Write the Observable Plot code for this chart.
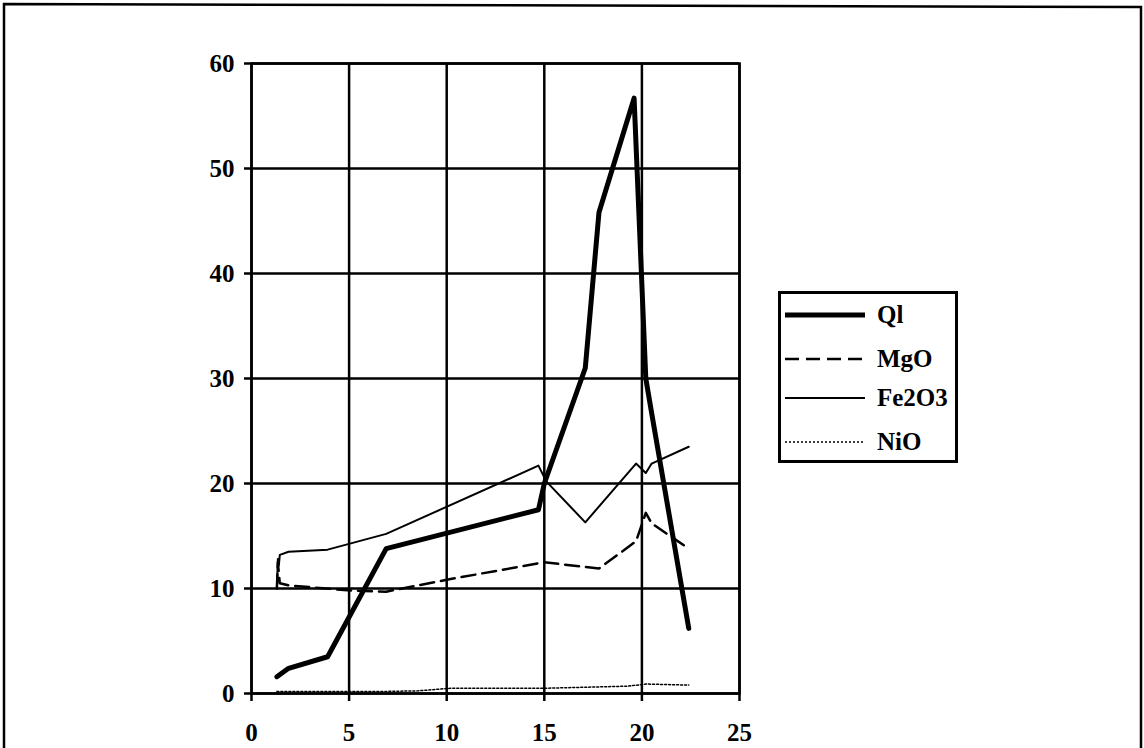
<!DOCTYPE html>
<html>
<head>
<meta charset="utf-8">
<script src="https://cdn.jsdelivr.net/npm/d3@7"></script>
<script src="https://cdn.jsdelivr.net/npm/@observablehq/plot@0.6"></script>
<style>
  html, body { margin: 0; padding: 0; background: #fff; }
  #wrap { position: relative; width: 1144px; height: 748px; overflow: hidden; background: #fff; }
  #frame { position: absolute; left: 0; top: 0; }
  #chart { position: absolute; left: 0; top: 0; }
  #legend { position: absolute; left: 778px; top: 291px; }
</style>
</head>
<body>
<div id="wrap">
  <svg id="frame" width="1144" height="748">
    <polyline points="4,748 4,4 1141,7 1141,748" fill="none" stroke="#000" stroke-width="2.5"/>
  </svg>
  <div id="chart"></div>
  <div id="legend"></div>
</div>
<script>
// ---- data ----
const qlX    = [1.3, 1.9, 3.9, 6.9, 14.7, 15.0, 17.1, 17.8, 19.6, 20.2, 20.5, 22.4];
const qlY    = [1.6, 2.4, 3.5, 13.8, 17.5, 20.0, 31.0, 45.8, 56.7, 30.0, 26.7, 6.2];

const mgoX   = [1.3, 1.35, 1.45, 1.9, 5.1, 6.9, 10.2, 15.0, 17.8, 19.7, 20.2, 20.5, 22.4];
const mgoY   = [10.0, 12.5, 10.5, 10.3, 9.8, 9.7, 10.9, 12.5, 11.9, 14.5, 17.2, 16.2, 13.8];

const fe2o3X = [1.3, 1.35, 1.4, 1.45, 1.9, 3.9, 6.9, 14.7, 15.1, 17.1, 19.7, 20.2, 20.5, 22.4];
const fe2o3Y = [10.0, 12.8, 12.2, 13.2, 13.5, 13.7, 15.2, 21.7, 20.2, 16.3, 21.9, 21.0, 21.9, 23.5];

const nioX   = [1.3, 6.9, 8.5, 10.2, 15.0, 19.3, 20.2, 22.4];
const nioY   = [0.2, 0.2, 0.25, 0.5, 0.5, 0.7, 0.9, 0.8];

const xTicks = [0, 5, 10, 15, 20, 25];
const yTicks = [0, 10, 20, 30, 40, 50, 60];

const seriesNames = ["Ql", "MgO", "Fe2O3", "NiO"];

// ---- build tables ----
const toRows = (xs, ys) => xs.map((x, i) => ({x, y: ys[i]}));
const ql = toRows(qlX, qlY);
const mgo = toRows(mgoX, mgoY);
const fe = toRows(fe2o3X, fe2o3Y);
const nio = toRows(nioX, nioY);

const FONT = "'Liberation Serif', 'Times New Roman', serif";

const chart = Plot.plot({
  width: 1144,
  height: 748,
  marginLeft: 251,
  marginRight: 405,
  marginTop: 63,
  marginBottom: 55,
  style: {fontFamily: FONT, fontSize: "25px", fontWeight: "bold", background: "transparent", color: "#000"},
  x: {domain: [0, 25]},
  y: {domain: [0, 60]},
  marks: [
    Plot.gridX(xTicks, {stroke: "#000", strokeOpacity: 1, strokeWidth: 2.5}),
    Plot.gridY(yTicks, {stroke: "#000", strokeOpacity: 1, strokeWidth: 2.5}),
    Plot.frame({stroke: "#000", strokeWidth: 2.5}),
    Plot.axisX({ticks: xTicks, tickSize: 8, tickPadding: 22, strokeWidth: 2.5, label: null, tickFormat: d => String(d)}),
    Plot.axisY({ticks: yTicks, tickSize: 7, tickPadding: 10, strokeWidth: 2.5, label: null, tickFormat: d => String(d)}),
    Plot.line(nio, {x: "x", y: "y", stroke: "#000", strokeWidth: 1.5, strokeDasharray: "2,2"}),
    Plot.line(mgo, {x: "x", y: "y", stroke: "#000", strokeWidth: 2.5, strokeDasharray: "14,7"}),
    Plot.line(fe, {x: "x", y: "y", stroke: "#000", strokeWidth: 2}),
    Plot.line(ql, {x: "x", y: "y", stroke: "#000", strokeWidth: 5})
  ]
});
document.getElementById("chart").appendChild(chart);

// ---- legend ----
const styles = {
  "Ql":    {w: 5, dash: null},
  "MgO":   {w: 2.5, dash: "14,7"},
  "Fe2O3": {w: 2, dash: null},
  "NiO":   {w: 1.5, dash: "2,2"}
};
const lw = 180, lh = 172;
const leg = d3.create("svg").attr("width", lw).attr("height", lh)
  .style("font-family", FONT).style("font-size", "25px").style("font-weight", "bold");
leg.append("rect").attr("x", 1.5).attr("y", 1.5).attr("width", lw - 3).attr("height", lh - 3)
  .attr("fill", "#fff").attr("stroke", "#000").attr("stroke-width", 3);
const rowY = [24, 68, 107, 151];
seriesNames.forEach((name, i) => {
  const s = styles[name];
  leg.append("line").attr("x1", 7).attr("x2", 87).attr("y1", rowY[i]).attr("y2", rowY[i])
    .attr("stroke", "#000").attr("stroke-width", s.w).attr("stroke-dasharray", s.dash);
  leg.append("text").attr("x", 99).attr("y", rowY[i]).attr("dy", "0.33em").attr("fill", "#000").text(name);
});
document.getElementById("legend").appendChild(leg.node());
</script>
</body>
</html>
